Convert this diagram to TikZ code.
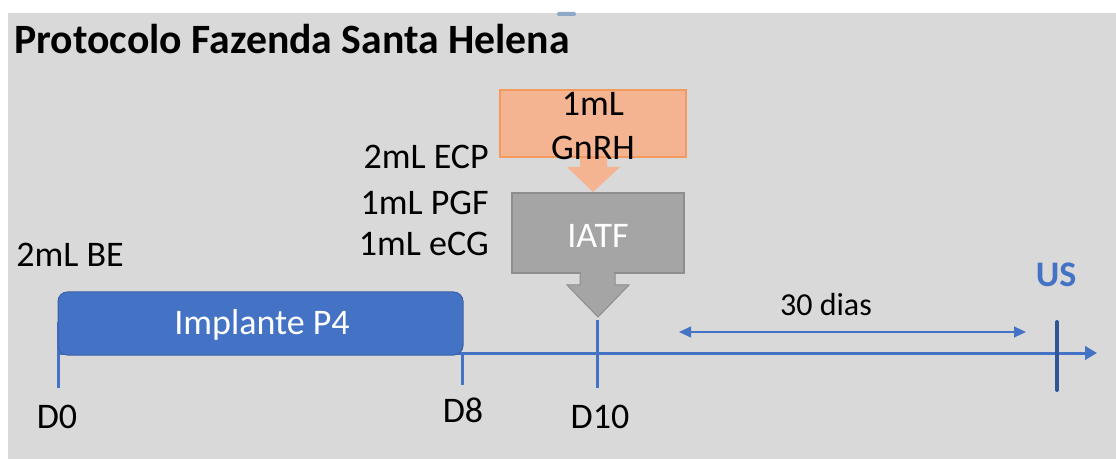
\documentclass[tikz,border=0pt]{standalone}
\usepackage{fontspec}
\setmainfont{Carlito}
\usetikzlibrary{arrows.meta,positioning}

\definecolor{fundo}{HTML}{D9D9D9}
\definecolor{azul}{HTML}{4472C4}
\definecolor{azulescuro}{HTML}{2F5597}
\definecolor{laranja}{HTML}{F5B491}
\definecolor{laranjaborda}{HTML}{F39A5E}
\definecolor{cinza}{HTML}{A5A5A5}
\definecolor{cinzaborda}{HTML}{8E8E8E}

\begin{document}
\begin{tikzpicture}[x=0.75pt,y=0.75pt,yscale=-1,xscale=1,
    rotulo/.style={inner sep=0.75pt,font=\fontsize{27}{32}\selectfont},
    marca/.style={color=azul,line width=2.25pt}]
        % fundo
        \fill [white] (0,0) rectangle (1116,459) ;
        \fill [fundo] (8,13) rectangle (1116,459) ;
        \fill [color={rgb, 255:red, 143; green, 168; blue, 200 }, rounded corners=1pt] (557,12) rectangle (576,16) ;

        % Title
        \node (titulo) at (14,54) [anchor=base west][inner sep=0pt] [font=\bfseries\fontsize{31.3}{36}\selectfont] {Protocolo Fazenda Santa Helena};

        % linha do tempo
        \coordinate (d0) at (58,353) ;
        \coordinate (d8) at (462,353) ;
        \coordinate (d10) at (597,353) ;
        \coordinate (us) at (1057,353) ;
        \coordinate (fim) at (1097,353) ;
        \draw [marca, -{Triangle[length=9pt,width=10pt]}] (d0) -- (fim) ;
        \draw [marca] (d0) ++(0,-31) -- ++(0,66) ;
        \draw [marca] (d8) -- ++(0,32) ;
        \draw [marca] (d10) ++(0,-33) -- ++(0,68) ;
        \draw [color=azulescuro, line width=3pt, line cap=round] (us) ++(0,-31) -- ++(0,68) ;

        % Implante
        \node (implante) at (260.5,323.5) [draw=azul!85!black, fill=azul, rounded corners=7pt, line width=0.75pt, minimum width=303.75pt, minimum height=47.25pt, inner sep=0pt] {} ;
        \node at (262,325) [rotulo, text=white] {Implante P4};

        % seta laranja
        \fill [laranja] (580,156) -- (607,156) -- (607,167) -- (620,167) -- (593,192) -- (567,167) -- (580,167) -- cycle ;
        \node (gnrh) at (593,123.5) [draw=laranjaborda, fill=laranja, line width=1.5pt, minimum width=139.5pt, minimum height=50.25pt, inner sep=0pt] {} ;
        \node (textognrh) at (593,126) [rotulo, align=center, font=\fontsize{27}{33.5}\selectfont] {1mL\\GnRH};

        % IATF
        \node (iatf) at (598,233) [draw=cinzaborda, fill=cinza, line width=1.5pt, minimum width=129pt, minimum height=60pt, inner sep=0pt] {} ;
        \draw [cinzaborda, fill=cinza, line width=0.75pt] (580,273) -- (615,273) -- (615,285) -- (629,285) -- (598,317) -- (567,285) -- (580,285) -- cycle ;
        \fill [cinza] (581,271) rectangle (614,286) ;
        \node at (598,236) [rotulo, text=white] {IATF};

        % Text Node
        \node (be) at (70,255) [rotulo] {2mL BE};
        \node (ecp) at (490,157) [rotulo, anchor=east] {2mL ECP};
        \node (pgf) at (490,203) [rotulo, anchor=east] {1mL PGF};
        \node (ecg) at (490,244) [rotulo, anchor=east] {1mL eCG};
        \node (textod0) at (57,417) [rotulo] {D0};
        \node (textod8) at (463,410) [rotulo] {D8};
        \node (textod10) at (600,417) [rotulo] {D10};
        \node (textous) at (1056,275) [rotulo, text=azul, font=\bfseries\fontsize{27}{32}\selectfont] {US};

        % 30 dias
        \coordinate (ini30) at (679,332) ;
        \coordinate (fim30) at (1026,332) ;
        \draw [color=azul, line width=1.5pt, {Triangle[length=9pt,width=8pt]}-{Triangle[length=9pt,width=8pt]}] (ini30) -- (fim30) ;
        \node (dias) at (826,305) [rotulo, font=\fontsize{24}{28}\selectfont] {30 dias};
\end{tikzpicture}
\end{document}
